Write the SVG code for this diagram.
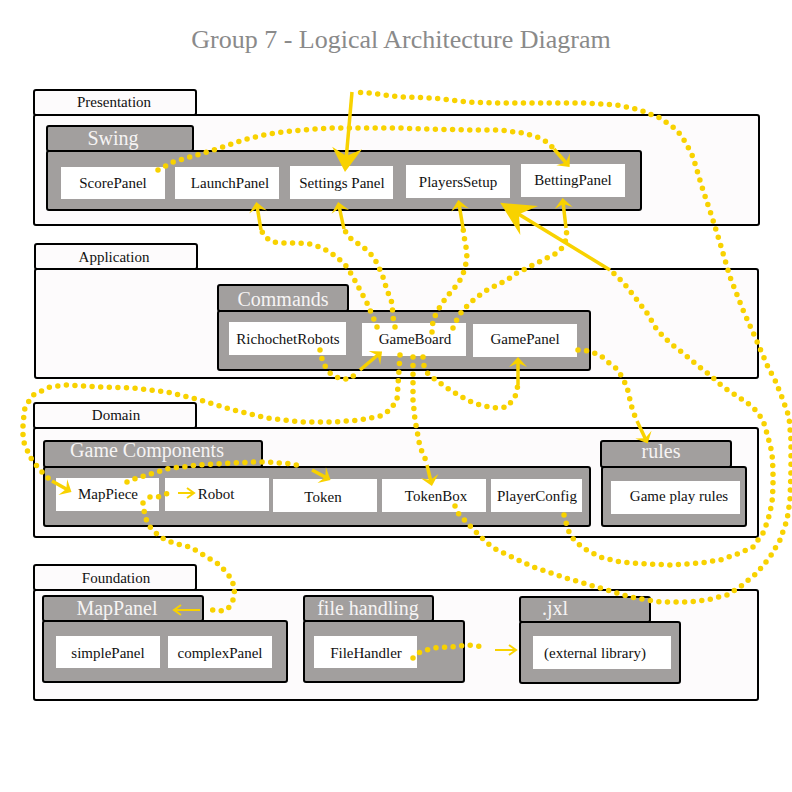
<svg xmlns="http://www.w3.org/2000/svg" width="792" height="792" viewBox="0 0 792 792">
<style>
.layer{fill:#fdfbfc;stroke:#000;stroke-width:2}
.pkg{fill:#a29f9e;stroke:#000;stroke-width:2}
.item{fill:#fff}
.t{font-family:"Liberation Serif","Times New Roman",serif;font-size:15px;fill:#111;text-anchor:middle}
.pt{font-family:"Liberation Serif","Times New Roman",serif;font-size:20px;fill:#f6f4f4;text-anchor:middle}
.title{font-family:"Liberation Serif","Times New Roman",serif;font-size:26px;fill:#8a8a8a;text-anchor:middle}
.dot{fill:none;stroke:#f8d200;stroke-width:5.5;stroke-linecap:round;stroke-linejoin:round;stroke-dasharray:0 8.6}
.sol{fill:none;stroke:#f8d200;stroke-width:3.5}
.thin{fill:none;stroke:#f8d200;stroke-width:2}
</style>
<defs>
<marker id="big" markerUnits="userSpaceOnUse" orient="auto" overflow="visible" markerWidth="1" markerHeight="1" refX="0" refY="0"><path d="M8,0 L-16,-15 L-8,0 L-16,15 Z" fill="#f8d200"/></marker>
<marker id="big2" markerUnits="userSpaceOnUse" orient="auto" overflow="visible" markerWidth="1" markerHeight="1" refX="0" refY="0"><path d="M8,0 L-26,-17 L-14,0 L-26,17 Z" fill="#f8d200"/></marker>
<marker id="sm" markerUnits="userSpaceOnUse" orient="auto" overflow="visible" markerWidth="1" markerHeight="1" refX="0" refY="0"><path d="M4,0 L-6,-9 L-2,0 L-6,9 Z" fill="#f8d200"/></marker>
<marker id="tiny" markerUnits="userSpaceOnUse" orient="auto" overflow="visible" markerWidth="1" markerHeight="1" refX="0" refY="0"><path d="M-7,-5 L0,0 L-7,5" fill="none" stroke="#f8d200" stroke-width="2"/></marker>
</defs>
<rect width="792" height="792" fill="#fff"/>
<text class="title" x="401" y="48">Group 7 - Logical Architecture Diagram</text>

<g id="presentation">
<rect class="layer" x="34" y="90" width="162" height="25" rx="2"/>
<rect class="layer" x="34" y="115" width="725" height="110" rx="2"/>
<text class="t" x="114" y="107">Presentation</text>
</g>
<g id="swing">
<rect class="pkg" x="47" y="126" width="146" height="25" rx="2"/>
<rect class="pkg" x="47" y="151" width="594" height="59" rx="2"/>
<text class="pt" x="113" y="145">Swing</text>
</g>
<g id="scorepanel"><rect class="item" x="61" y="167" width="104" height="32"/><text class="t" x="113" y="188">ScorePanel</text></g>
<g id="launchpanel"><rect class="item" x="175" y="167" width="104" height="32"/><text class="t" x="230" y="188">LaunchPanel</text></g>
<g id="settingspanel"><rect class="item" x="290" y="166" width="103" height="33"/><text class="t" x="342" y="188">Settings Panel</text></g>
<g id="playerssetup"><rect class="item" x="406" y="165" width="104" height="33"/><text class="t" x="458" y="187">PlayersSetup</text></g>
<g id="bettingpanel"><rect class="item" x="521" y="164" width="104" height="33"/><text class="t" x="573" y="185">BettingPanel</text></g>

<g id="application">
<rect class="layer" x="35" y="244" width="162" height="25" rx="2"/>
<rect class="layer" x="35" y="269" width="723" height="109" rx="2"/>
<text class="t" x="114" y="262">Application</text>
</g>
<g id="commands">
<rect class="pkg" x="218" y="285" width="130" height="26" rx="2"/>
<rect class="pkg" x="218" y="311" width="372" height="59" rx="2"/>
<text class="pt" x="283" y="306">Commands</text>
</g>
<g id="richochetrobots"><rect class="item" x="229" y="322" width="117" height="33"/><text class="t" x="288" y="344">RichochetRobots</text></g>
<g id="gameboard"><rect class="item" x="362" y="323" width="104" height="33"/><text class="t" x="415" y="344">GameBoard</text></g>
<g id="gamepanel"><rect class="item" x="473" y="324" width="104" height="33"/><text class="t" x="525" y="344">GamePanel</text></g>

<g id="domain">
<rect class="layer" x="34" y="403" width="162" height="25" rx="2"/>
<rect class="layer" x="34" y="428" width="724" height="109" rx="2"/>
<text class="t" x="116" y="420">Domain</text>
</g>
<g id="gamecomponents">
<rect class="pkg" x="44" y="441" width="218" height="26" rx="2"/>
<rect class="pkg" x="44" y="467" width="546" height="59" rx="2"/>
<text class="pt" x="147" y="457">Game Components</text>
</g>
<g id="mappiece"><rect class="item" x="56" y="478" width="103" height="33"/><text class="t" x="108" y="499">MapPiece</text></g>
<g id="robot"><rect class="item" x="165" y="478" width="104" height="33"/><text class="t" x="216" y="499">Robot</text></g>
<g id="token"><rect class="item" x="273" y="479" width="104" height="33"/><text class="t" x="323" y="502">Token</text></g>
<g id="tokenbox"><rect class="item" x="382" y="479" width="104" height="33"/><text class="t" x="436" y="501">TokenBox</text></g>
<g id="playerconfig"><rect class="item" x="491" y="479" width="91" height="33"/><text class="t" x="537" y="501">PlayerConfig</text></g>
<g id="rules">
<rect class="pkg" x="601" y="441" width="130" height="26" rx="2"/>
<rect class="pkg" x="602" y="467" width="144" height="59" rx="2"/>
<text class="pt" x="661" y="458">rules</text>
</g>
<g id="gameplayrules"><rect class="item" x="611" y="481" width="129" height="33"/><text class="t" x="679" y="501">Game play rules</text></g>

<g id="foundation">
<rect class="layer" x="34" y="565" width="162" height="25" rx="2"/>
<rect class="layer" x="34" y="590" width="724" height="110" rx="2"/>
<text class="t" x="116" y="583">Foundation</text>
</g>
<g id="mappanel">
<rect class="pkg" x="43" y="596" width="160" height="25" rx="2"/>
<rect class="pkg" x="43" y="621" width="244" height="61" rx="2"/>
<text class="pt" x="117" y="615">MapPanel</text>
</g>
<g id="simplepanel"><rect class="item" x="56" y="636" width="104" height="32"/><text class="t" x="108" y="658">simplePanel</text></g>
<g id="complexpanel"><rect class="item" x="168" y="636" width="104" height="32"/><text class="t" x="220" y="658">complexPanel</text></g>
<g id="filehandling">
<rect class="pkg" x="304" y="596" width="129" height="25" rx="2"/>
<rect class="pkg" x="304" y="621" width="160" height="61" rx="2"/>
<text class="pt" x="368" y="615">file handling</text>
</g>
<g id="filehandler"><rect class="item" x="314" y="636" width="103" height="32"/><text class="t" x="366" y="658">FileHandler</text></g>
<g id="jxl">
<rect class="pkg" x="520" y="597" width="130" height="25" rx="2"/>
<rect class="pkg" x="520" y="622" width="160" height="61" rx="2"/>
<text class="pt" x="555" y="615">.jxl</text>
</g>
<g id="externallibrary"><rect class="item" x="533" y="636" width="138" height="33"/><text class="t" x="595" y="658">(external library)</text></g>

<g id="connectors">
<path class="dot" d="M455,506 L458,513 L467,523 L477,533 L487,543 L497,550 L533,567 L566,578 L600,588 L630,597 L660,602 L687,602 L707,600 L727,595 L740,587 L757,573 L770,557 L780,540 L787,520 L790,500 L791,470 L791,440 L789,417 L783,400 L775,380 L768,367 L755,337 L743,310 L730,277 L720,243 L712,217 L702,187 L693,157 L686,143 L677,130 L660,118 L640,110 L617,105 L583,103 L533,103 L500,103 L467,102 L433,98 L400,97 L370,93 L352,92"/>
<path class="sol" d="M352,92 L345.7,164" marker-end="url(#big)"/>
<path class="dot" d="M564,515 L568,530 L574,540 L583,548 L600,557 L620,562 L647,564 L673,565 L700,563 L720,560 L740,553 L753,547 L763,533 L768,520 L772,503 L773,487 L773,470 L772,453 L768,437 L763,420 L753,407 L740,398 L723,387 L710,375 L697,365 L683,353 L670,343 L657,330 L647,313 L637,300 L627,287 L618,277 L610,270"/>
<path class="sol" d="M610,270 L507,207" marker-end="url(#big2)"/>
<path class="dot" d="M158,170 L173,162 L190,157 L207,152 L223,147 L243,140 L263,135 L283,132 L303,130 L330,128 L363,128 L397,128 L430,129 L467,130 L500,130 L523,133 L537,137 L547,142 L553,148"/>
<path class="sol" d="M554,149 L567,164" marker-end="url(#sm)"/>
<path class="dot" d="M377,327 L373,317 L367,303 L360,290 L353,277 L347,267 L340,260 L330,252 L320,247 L310,244 L297,243 L283,243 L273,242 L265,237 L261,230"/>
<path class="sol" d="M261,230 L257,206" marker-end="url(#sm)"/>
<path class="dot" d="M395,327 L393,317 L392,303 L387,290 L383,277 L377,263 L370,253 L363,247 L357,243 L350,238 L345,231"/>
<path class="sol" d="M344,229 L339,206" marker-end="url(#sm)"/>
<path class="dot" d="M432,332 L433,320 L438,310 L443,302 L450,293 L457,285 L462,277 L465,268 L467,258 L466,247 L464,236 L463,228"/>
<path class="sol" d="M463,228 L459,204" marker-end="url(#sm)"/>
<path class="dot" d="M453,328 L458,317 L463,310 L470,303 L477,297 L487,290 L497,285 L507,280 L517,273 L527,268 L537,263 L547,258 L557,253 L563,247 L567,237 L566,228"/>
<path class="sol" d="M566,228 L563,202" marker-end="url(#sm)"/>
<path class="dot" d="M320,350 L323,363 L330,373 L340,379 L350,379 L358,372"/>
<path class="sol" d="M360,370 L379,354" marker-end="url(#sm)"/>
<path class="dot" d="M400,355 L399,370 L398,385 L397,400 L390,410 L380,416 L360,420 L333,422 L300,422 L267,418 L233,410 L200,400 L167,392 L133,388 L100,387 L67,385 L50,387 L33,395 L25,407 L23,423 L23,440 L30,457 L40,470 L50,480"/>
<path class="sol" d="M52,481 L68,490" marker-end="url(#sm)"/>
<path class="dot" d="M413,357 L413,380 L413,400 L415,420 L420,447 L427,463"/>
<path class="sol" d="M427,465 L431,482" marker-end="url(#sm)"/>
<path class="dot" d="M423,357 L424,366 L428,374 L437,381 L450,390 L467,400 L480,405 L493,408 L507,407 L515,397 L518,385"/>
<path class="sol" d="M518,385 L518,361" marker-end="url(#sm)"/>
<path class="dot" d="M578,350 L588,351 L600,355 L608,362 L617,369 L622,377 L627,387 L630,400 L633,412 L637,420"/>
<path class="sol" d="M637,421 L646,440" marker-end="url(#sm)"/>
<path class="dot" d="M150,497 L158,497 L166,494 L174,492"/>
<path class="thin" d="M178,493 L194,493" marker-end="url(#tiny)"/>
<path class="dot" d="M127,482 L137,478 L147,475 L157,472 L170,468 L183,467 L197,465 L213,464 L233,463 L253,462 L267,462 L280,463 L293,464 L303,467"/>
<path class="sol" d="M312,470 L327,478" marker-end="url(#sm)"/>
<path class="dot" d="M143,503 L145,517 L150,527 L160,537 L173,543 L190,547 L207,557 L220,565 L230,577 L235,588 L233,600 L228,609 L220,611 L212,610"/>
<path class="thin" d="M200,610 L174,610" marker-end="url(#tiny)"/>
<path class="dot" d="M413,658 L420,652 L433,648 L450,647 L467,645 L485,647"/>
<path class="thin" d="M495,650 L516,650" marker-end="url(#tiny)"/>
</g>
</svg>
